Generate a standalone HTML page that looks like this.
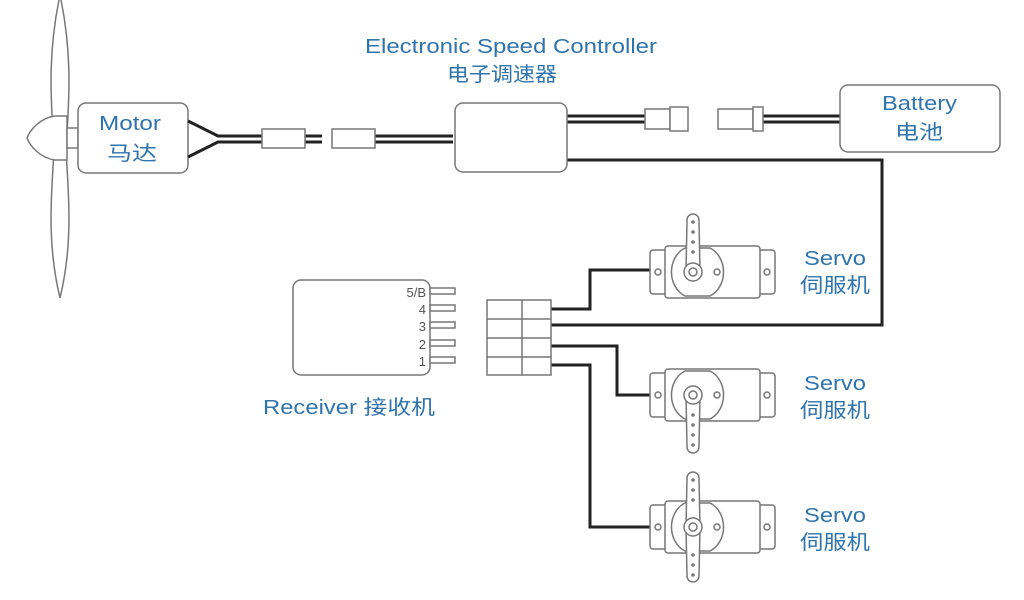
<!DOCTYPE html>
<html><head><meta charset="utf-8"><style>
html,body{margin:0;padding:0;background:#fff;}
svg{display:block;}
text{font-family:"Liberation Sans","Noto Sans CJK SC",sans-serif;fill:#2f74ad;}
</style></head><body>
<svg width="1024" height="600" viewBox="0 0 1024 600" xmlns="http://www.w3.org/2000/svg">
<defs>
<g id="servo" fill="#fff" stroke="#777" stroke-width="1.5">
  <rect x="0" y="-22" width="125" height="44" rx="3"/>
  <rect x="15" y="-26" width="95" height="52" rx="3"/>
  <circle cx="8" cy="0" r="3"/>
  <circle cx="117" cy="0" r="3"/>
  <path d="M35,-24 A22,26 0 0 0 35,24 L60,24 A22,26 0 0 0 60,-24 Z"/>
  <circle cx="67" cy="0" r="3"/>
</g>
</defs>
<!-- propeller -->
<g fill="#fff" stroke="#777" stroke-width="1.5">
  <path d="M60,-5 C46,60 52,110 54,150 C52,190 46,240 60,298 C74,240 68,190 66,150 C68,110 74,60 60,-5 Z"/>
  <path d="M67,116 L55,116 C40,118 30,130 27,138 C30,146 40,158 55,160 L67,160 Z"/>
  <rect x="67" y="128" width="11" height="20"/>
</g>
<!-- motor -->
<rect x="78" y="103" width="110" height="70" rx="8" fill="#fff" stroke="#777" stroke-width="1.5"/>
<text x="99" y="130" font-size="20" textLength="62" lengthAdjust="spacingAndGlyphs">Motor</text>
<text x="107" y="160" font-size="20" textLength="50" lengthAdjust="spacingAndGlyphs">马达</text>
<!-- wires -->
<g stroke="#222" stroke-width="3" fill="none">
  <path d="M188,121 L218,136 L262,136"/>
  <path d="M188,157 L218,142 L262,142"/>
  <path d="M305,136 L322,136 M305,142 L322,142"/>
  <path d="M375,136 L453,136 M375,142 L453,142"/>
  <path d="M567,116 L645,116 M567,122 L645,122"/>
  <path d="M763,116 L840,116 M763,122 L840,122"/>
  <path d="M567,160 L882,160 L882,325 L551,325"/>
  <path d="M551,309 L590,309 L590,270 L652,270"/>
  <path d="M551,346 L617,346 L617,395 L652,395"/>
  <path d="M551,365 L590,365 L590,527 L652,527"/>
</g>
<g fill="#fff" stroke="#777" stroke-width="1.5">
  <rect x="262" y="129" width="43" height="19"/>
  <rect x="332" y="129" width="43" height="19"/>
  <rect x="645" y="109" width="25" height="20"/>
  <rect x="670" y="107" width="18" height="24"/>
  <rect x="718" y="109" width="35" height="20"/>
  <rect x="753" y="107" width="10" height="24"/>
</g>
<!-- ESC -->
<rect x="455" y="103" width="112" height="69" rx="8" fill="#fff" stroke="#777" stroke-width="1.5"/>
<text x="365" y="53" font-size="20" textLength="292" lengthAdjust="spacingAndGlyphs">Electronic Speed Controller</text>
<text x="447" y="81" font-size="20" textLength="110" lengthAdjust="spacingAndGlyphs">电子调速器</text>
<!-- battery -->
<rect x="840" y="85" width="160" height="67" rx="8" fill="#fff" stroke="#777" stroke-width="1.5"/>
<text x="882" y="110" font-size="20" textLength="75" lengthAdjust="spacingAndGlyphs">Battery</text>
<text x="895" y="139" font-size="20" textLength="48" lengthAdjust="spacingAndGlyphs">电池</text>
<!-- receiver -->
<rect x="293" y="280" width="137" height="95" rx="8" fill="#fff" stroke="#777" stroke-width="1.5"/>
<g fill="#fff" stroke="#777" stroke-width="1.5">
  <rect x="430" y="288" width="25" height="6"/>
  <rect x="430" y="305" width="25" height="6"/>
  <rect x="430" y="322" width="25" height="6"/>
  <rect x="430" y="340" width="25" height="6"/>
  <rect x="430" y="357" width="25" height="6"/>
</g>
<g font-size="13" text-anchor="end">
  <text x="426" y="297" style="fill:#555">5/B</text>
  <text x="426" y="314" style="fill:#555">4</text>
  <text x="426" y="331" style="fill:#555">3</text>
  <text x="426" y="349" style="fill:#555">2</text>
  <text x="426" y="366" style="fill:#555">1</text>
</g>
<text x="263" y="414" font-size="20" textLength="172" lengthAdjust="spacingAndGlyphs">Receiver 接收机</text>
<!-- connector block -->
<g fill="#fff" stroke="#777" stroke-width="1.5">
  <rect x="487" y="300" width="64" height="75"/>
  <path d="M522,300 V375 M487,319 H551 M487,338 H551 M487,357 H551" fill="none"/>
</g>
<!-- servo 1 -->
<use href="#servo" x="650" y="272"/>
<g fill="#fff" stroke="#777" stroke-width="1.5">
  <path d="M686,272 L687,220 A6,6 0 0 1 699,220 L700,272 Z"/>
  <circle cx="693" cy="272" r="9"/><circle cx="693" cy="272" r="4"/>
</g>
<g fill="#777"><circle cx="693" cy="222" r="1.8"/><circle cx="693" cy="232" r="1.8"/><circle cx="693" cy="242" r="1.8"/><circle cx="693" cy="252" r="1.8"/></g>
<!-- servo 2 -->
<use href="#servo" x="650" y="395"/>
<g fill="#fff" stroke="#777" stroke-width="1.5">
  <path d="M686,395 L687,447 A6,6 0 0 0 699,447 L700,395 Z"/>
  <circle cx="693" cy="395" r="9"/><circle cx="693" cy="395" r="4"/>
</g>
<g fill="#777"><circle cx="693" cy="415" r="1.8"/><circle cx="693" cy="425" r="1.8"/><circle cx="693" cy="435" r="1.8"/><circle cx="693" cy="445" r="1.8"/></g>
<!-- servo 3 -->
<use href="#servo" x="650" y="527"/>
<g fill="#fff" stroke="#777" stroke-width="1.5">
  <path d="M686,527 L687,478 A6,6 0 0 1 699,478 L700,527 L699,576 A6,6 0 0 1 687,576 Z"/>
  <circle cx="693" cy="527" r="9"/><circle cx="693" cy="527" r="4"/>
</g>
<g fill="#777"><circle cx="693" cy="480" r="1.8"/><circle cx="693" cy="490" r="1.8"/><circle cx="693" cy="500" r="1.8"/><circle cx="693" cy="555" r="1.8"/><circle cx="693" cy="565" r="1.8"/><circle cx="693" cy="575" r="1.8"/></g>
<!-- servo labels -->
<g font-size="20">
  <text x="804" y="265" textLength="62" lengthAdjust="spacingAndGlyphs">Servo</text>
  <text x="800" y="292" textLength="70" lengthAdjust="spacingAndGlyphs">伺服机</text>
  <text x="804" y="390" textLength="62" lengthAdjust="spacingAndGlyphs">Servo</text>
  <text x="800" y="417" textLength="70" lengthAdjust="spacingAndGlyphs">伺服机</text>
  <text x="804" y="522" textLength="62" lengthAdjust="spacingAndGlyphs">Servo</text>
  <text x="800" y="549" textLength="70" lengthAdjust="spacingAndGlyphs">伺服机</text>
</g>
</svg>
</body></html>
